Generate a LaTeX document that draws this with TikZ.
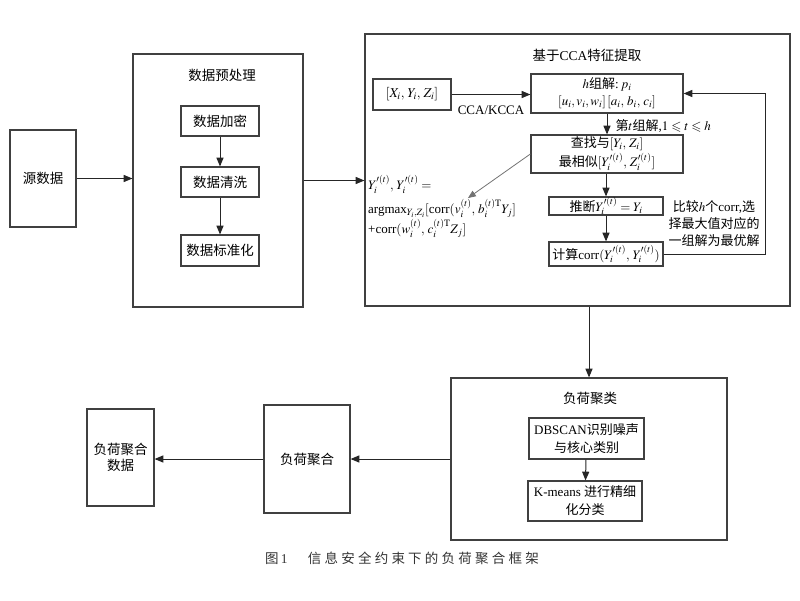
\documentclass[tikz,border=0pt]{standalone}
\usepackage{amsmath,amssymb}
\usepackage{mathptmx}
\usepackage{fontspec}
\setmainfont{Liberation Serif}
\newfontfamily\cjk{Noto Sans CJK SC}
\newfontfamily\cjkcap[LetterSpace=24]{Noto Sans CJK SC}
\usetikzlibrary{arrows}

\begin{document}
\begin{tikzpicture}[x=1pt,y=-1pt,font=\fontsize{13.5}{16}\selectfont]
\tikzset{BoxStyle/.style={draw=black!75,line width=1.3pt,inner sep=0pt,align=center}}
\tikzset{EdgeStyle/.style={-triangle 45,line width=1pt,black!85}}
\useasboundingbox (0,0) rectangle (800,600);
\node[BoxStyle,minimum width=66pt,minimum height=97pt] (Src) at (43,178.5) {\cjk 源数据};
\node[BoxStyle,minimum width=170pt,minimum height=253pt] (Pre) at (218,180.5) {};
\node (PreT) at (222,75) {\cjk 数据预处理};
\node[BoxStyle,minimum width=78pt,minimum height=30pt] (Enc) at (220,121) {\cjk 数据加密};
\node[BoxStyle,minimum width=78pt,minimum height=30pt] (Cln) at (220,182) {\cjk 数据清洗};
\node[BoxStyle,minimum width=78pt,minimum height=31pt] (Std) at (220,250.5) {\cjk 数据标准化};
\node[BoxStyle,minimum width=425pt,minimum height=272pt] (Cca) at (577.5,170) {};
\node (CcaT) at (587,55) {{\cjk 基于}CCA{\cjk 特征提取}};
\node[BoxStyle,minimum width=78pt,minimum height=31pt] (Xyz) at (412,94.5) {$[X_i,\,Y_i,\,Z_i]$};
\node[BoxStyle,minimum width=152pt,minimum height=39pt,font=\fontsize{13}{17}\selectfont] (H) at (607,93.5)
  {$h${\cjk 组解}:\,$p_i$\\$[u_i,v_i,w_i]\,[a_i,\,b_i,\,c_i]$};
\node[BoxStyle,minimum width=152pt,minimum height=38pt,font=\fontsize{13}{19}\selectfont] (Find) at (607,154)
  {{\cjk 查找与}$[Y_i,\,Z_i]$\\{\cjk 最相似}$[Y_i'^{(t)},\,Z_i'^{(t)}]$};
\node[BoxStyle,minimum width=114pt,minimum height=18pt,font=\fontsize{13}{16}\selectfont] (Infer) at (606,206)
  {{\cjk 推断}$Y_i'^{(t)}=Y_i$};
\node[BoxStyle,minimum width=114pt,minimum height=24pt,font=\fontsize{13}{16}\selectfont] (Calc) at (606,254)
  {{\cjk 计算}corr$(Y_i'^{(t)},\,Y_i'^{(t)})$};
\node[font=\fontsize{13}{16}\selectfont] (Kcca) at (491,110) {CCA/KCCA};
\node[anchor=west,font=\fontsize{13}{16}\selectfont] (Tlab) at (612,126)
  {{\cjk 第}$t${\cjk 组解},$1\leqslant t\leqslant h$};
\node[align=center,font=\fontsize{13}{17}\selectfont] (Cmp) at (714,224)
  {{\cjk 比较}$h${\cjk 个}corr,{\cjk 选}\\{\cjk 择最大值对应的}\\{\cjk 一组解为最优解}};
\node[anchor=north west,align=left,inner sep=0pt,font=\fontsize{13}{20}\selectfont] (Fm) at (368,175)
  {$Y_i'^{(t)},\,Y_i'^{(t)}=$\\[4pt]
   argmax$_{Y_i,Z_i}[$corr$(v_i^{(t)},\,b_i^{(t)\mathrm{T}}Y_j]$\\
   +corr$(w_i^{(t)},\,c_i^{(t)\mathrm{T}}Z_j]$};
\coordinate (Fml) at (468,198);
\coordinate (Fb) at (765,254);
\node[BoxStyle,minimum width=276pt,minimum height=162pt] (Clu) at (589,459) {};
\node (CluT) at (590,398) {\cjk 负荷聚类};
\node[BoxStyle,minimum width=115pt,minimum height=41pt,font=\fontsize{13}{18}\selectfont] (Dbs) at (586.5,438.5)
  {DBSCAN{\cjk 识别噪声}\\{\cjk 与核心类别}};
\node[BoxStyle,minimum width=114pt,minimum height=40pt,font=\fontsize{13}{18}\selectfont] (Km) at (585,501)
  {K-means {\cjk 进行精细}\\{\cjk 化分类}};
\node[BoxStyle,minimum width=86pt,minimum height=108pt] (Agg) at (307,459) {\cjk 负荷聚合};
\node[BoxStyle,minimum width=67pt,minimum height=97pt,align=center] (Out) at (120.5,457.5) {\cjk 负荷聚合\\\cjk 数据};
\node[text=black!80] (Cap) at (402,558) {{\cjkcap 图}\,1\hspace{1.5em}{\cjkcap 信息安全约束下的负荷聚合框架}};
\draw[EdgeStyle] (Src.east) -- (Src.east -| Pre.west);
\draw[EdgeStyle] (Enc) -- (Cln);
\draw[EdgeStyle] (Cln) -- (Std);
\draw[EdgeStyle] (Pre.east) -- (Pre.east -| Cca.west);
\draw[EdgeStyle] (Xyz.east) -- (Xyz.east -| H.west);
\draw[EdgeStyle] (H) -- (Find);
\draw[EdgeStyle] (Find.south -| Infer.north) -- (Infer.north);
\draw[EdgeStyle] (Infer) -- (Calc);
\draw[EdgeStyle] (Calc.east) -- (Calc.east -| Fb) |- (H.east);
\draw[EdgeStyle,black!55,line width=0.8pt] (Find.west) -- (Fml);
\draw[EdgeStyle] (Clu.north |- Cca.south) -- (Clu.north);
\draw[EdgeStyle] (Clu.west) -- (Clu.west -| Agg.east);
\draw[EdgeStyle] (Dbs) -- (Km);
\draw[EdgeStyle] (Agg.west) -- (Agg.west -| Out.east);
\end{tikzpicture}
\end{document}
